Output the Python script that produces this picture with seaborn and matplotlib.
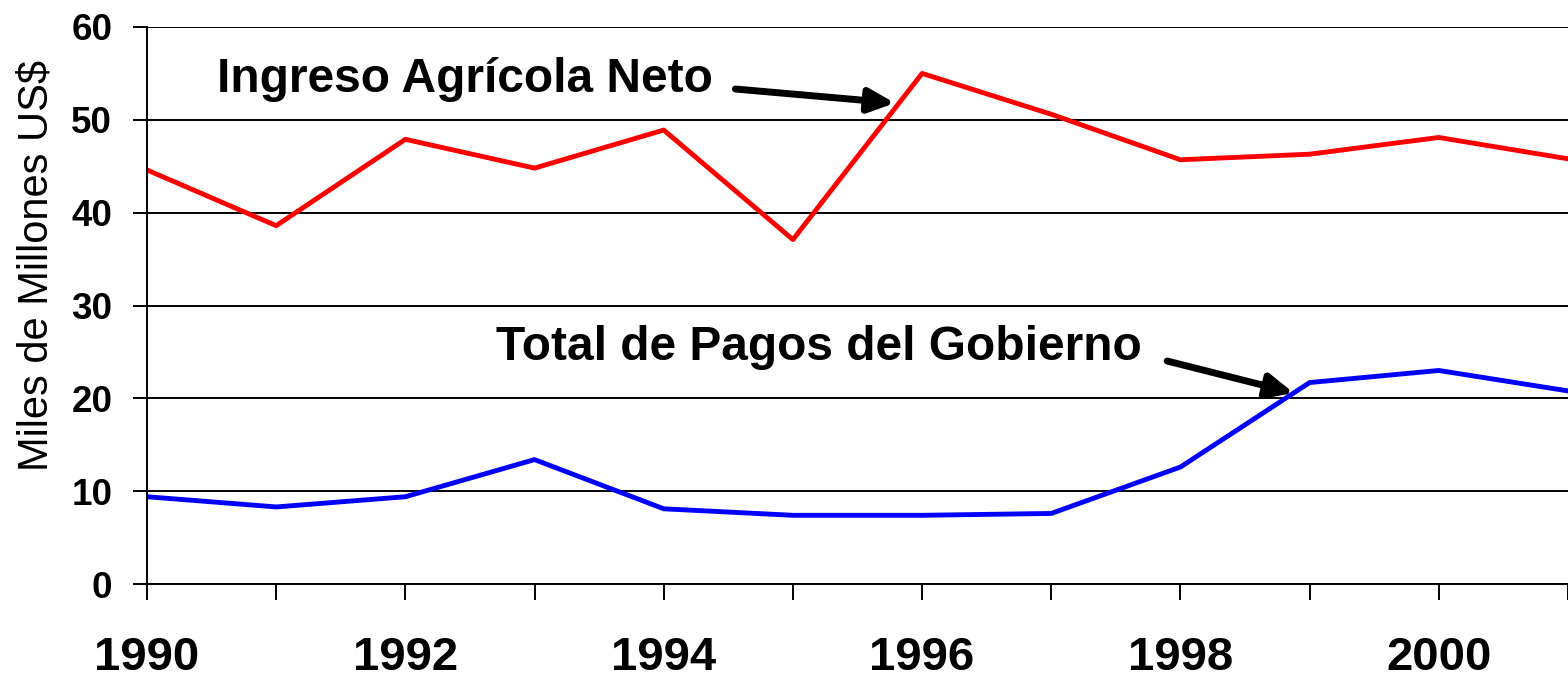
import matplotlib
matplotlib.use("Agg")
import matplotlib.pyplot as plt
import seaborn as sns
import pandas as pd

years = [1990, 1991, 1992, 1993, 1994, 1995, 1996, 1997, 1998, 1999, 2000, 2001]
ingreso_neto = [44.6, 38.6, 47.9, 44.8, 48.9, 37.1, 55.0, 50.6, 45.7, 46.3, 48.1, 45.8]
pagos_gobierno = [9.4, 8.3, 9.4, 13.4, 8.1, 7.4, 7.4, 7.6, 12.6, 21.7, 23.0, 20.8]
series_names = ["Ingreso Agrícola Neto", "Total de Pagos del Gobierno"]
colors = ["#FF0000", "#0000FF"]
y_ticks = [0, 10, 20, 30, 40, 50, 60]
x_labeled = [1990, 1992, 1994, 1996, 1998, 2000]

sns.set_theme(style="white")
plt.rcParams['font.family'] = ['Liberation Sans', 'DejaVu Sans']
plt.rcParams['text.color'] = 'black'
plt.rcParams['xtick.color'] = 'black'
plt.rcParams['ytick.color'] = 'black'
plt.rcParams['axes.labelcolor'] = 'black'

df = pd.DataFrame({
    "year": years * 2,
    "value": ingreso_neto + pagos_gobierno,
    "serie": [series_names[0]] * len(years) + [series_names[1]] * len(years),
})

fig = plt.figure(figsize=(15.68, 6.78), dpi=100)
ax = fig.add_axes([147 / 1568, 1 - 584 / 678, 1 - 147 / 1568, (584 - 27) / 678])

sns.lineplot(data=df, x="year", y="value", hue="serie", palette=colors,
             linewidth=3.5, ax=ax, legend=False)

ax.set_xlim(1990, 2000.97)
ax.set_ylim(0, 60)
ax.set_yticks(y_ticks)
ax.set_yticklabels([str(t) for t in y_ticks], fontsize=26.5, fontweight="bold")
ax.set_xticks(years)
ax.set_xticklabels([str(y) if y in x_labeled else "" for y in years],
                   fontsize=34, fontweight="bold")
ax.tick_params(axis="x", bottom=True, direction="out", length=11.5, width=1.4,
               colors="black", pad=26)
ax.tick_params(axis="y", left=True, direction="out", length=10, width=1.4,
               colors="black", pad=15)
ax.grid(axis="y", color="black", linewidth=1.4)
ax.set_axisbelow(True)
for s in ["top", "right"]:
    ax.spines[s].set_visible(False)
for s in ["left", "bottom"]:
    ax.spines[s].set_color("black")
    ax.spines[s].set_linewidth(1.4)
ax.set_xlabel("")
ax.set_ylabel("Miles de Millones US$", fontsize=30)
ax.yaxis.set_label_coords(-0.0634, 0.571)

arrow_style = dict(arrowstyle="-|>,head_length=1.3,head_width=0.6",
                   color="black", lw=5, shrinkA=0, shrinkB=0)

ax.text(1990.54, 53.0, series_names[0], fontsize=34.5, fontweight="bold",
        va="baseline", ha="left", color="black")
ax.annotate("", xy=(1995.79, 51.81), xytext=(1994.555, 53.32),
            arrowprops=arrow_style)

ax.text(1992.70, 24.13, series_names[1], fontsize=34.5, fontweight="bold",
        va="baseline", ha="left", color="black")
ax.annotate("", xy=(1998.877, 20.58), xytext=(1997.897, 24.02),
            arrowprops=arrow_style)

fig.savefig("out.png", dpi=100)
